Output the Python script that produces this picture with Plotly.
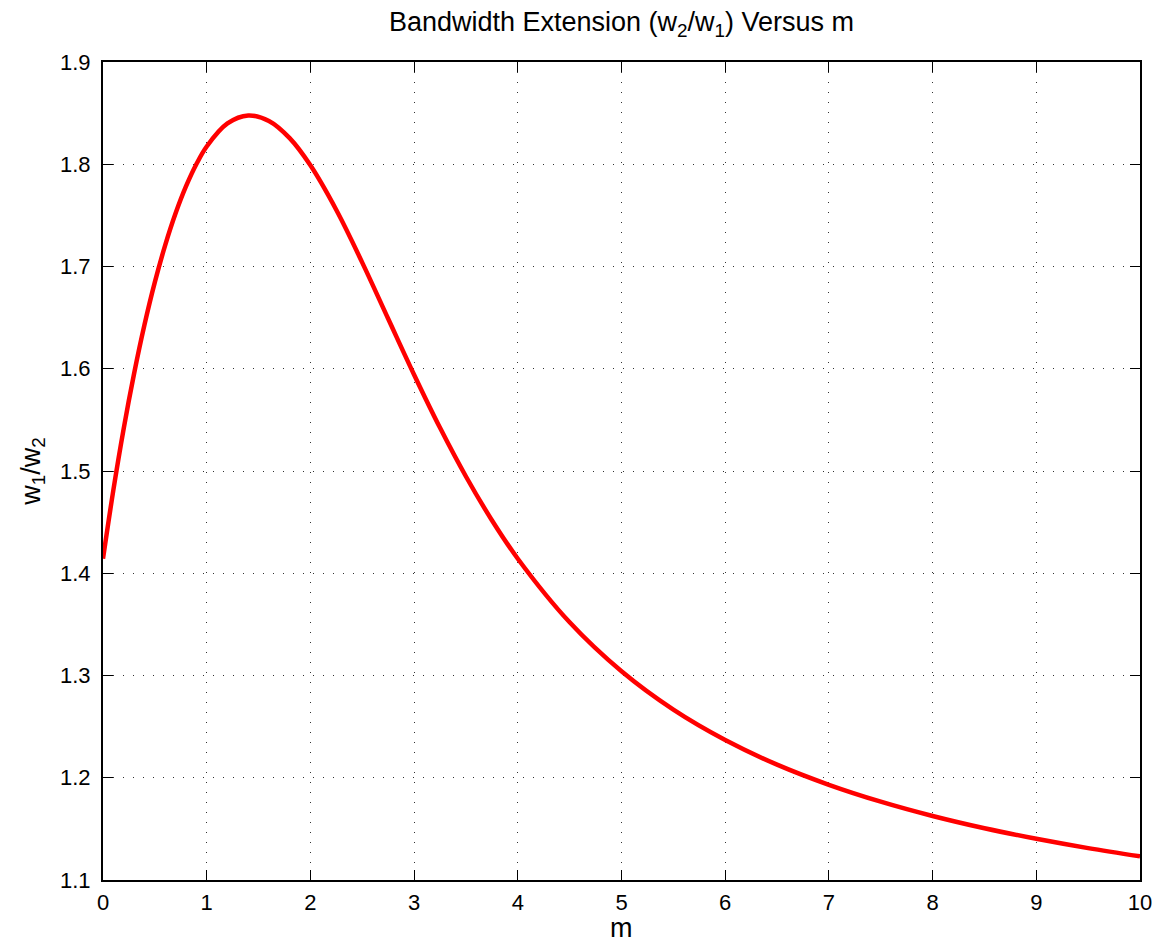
import plotly.graph_objects as go

m_vals = [0.0, 0.1, 0.2, 0.3, 0.4, 0.5, 0.6, 0.7, 0.8, 0.9, 1.0, 1.2, 1.4, 1.6, 1.8, 2.0,
          2.25, 2.5, 2.75, 3.0, 3.25, 3.5, 3.75, 4.0, 4.5, 5.0, 5.5, 6.0, 6.5, 7.0, 7.5,
          8.0, 8.5, 9.0, 9.5, 10.0]
ratio_vals = [1.4142, 1.4814, 1.5417, 1.5954, 1.6430, 1.6847, 1.7209, 1.7520, 1.7783, 1.8000,
              1.8174, 1.8399, 1.8477, 1.8423, 1.8255, 1.7989, 1.7552, 1.7038, 1.6489, 1.5942,
              1.5422, 1.4946, 1.4519, 1.4142, 1.3520, 1.3041, 1.2666, 1.2369, 1.2128, 1.1931,
              1.1766, 1.1626, 1.1506, 1.1403, 1.1312, 1.1231]

x_ticks = [0, 1, 2, 3, 4, 5, 6, 7, 8, 9, 10]
y_ticks = [1.1, 1.2, 1.3, 1.4, 1.5, 1.6, 1.7, 1.8, 1.9]

font_family = "Liberation Sans, Arial, Helvetica, sans-serif"

fig = go.Figure()
fig.add_trace(go.Scatter(
    x=m_vals, y=ratio_vals, mode="lines",
    line=dict(color="#ff0000", width=4.5, shape="spline", smoothing=1.0),
    showlegend=False, hoverinfo="skip",
))

axis_common = dict(
    showline=True, linecolor="black", linewidth=2, mirror="ticks",
    ticks="inside", ticklen=10, tickwidth=1, tickcolor="black",
    showgrid=True, gridcolor="#333333", gridwidth=1, griddash="1px,9px",
    zeroline=False, automargin=False,
    tickfont=dict(size=22, color="black", family=font_family),
)

fig.update_xaxes(range=[0, 10], tickvals=x_ticks, ticktext=[str(v) for v in x_ticks],
                 ticklabelstandoff=2, **axis_common)
fig.update_yaxes(range=[1.1, 1.9], tickvals=y_ticks, ticktext=[f"{v:.1f}" for v in y_ticks],
                 ticklabelstandoff=6,
                 title=dict(text="w<sub>1</sub>/w<sub>2</sub>", font=dict(size=27, color="black", family=font_family), standoff=12),
                 **axis_common)

# x-axis title placed as an annotation so it can sit low, as in the reference
fig.add_annotation(text="m", xref="paper", yref="paper", x=0.5, y=-0.059,
                   xanchor="center", yanchor="middle", showarrow=False,
                   font=dict(size=27, color="black", family=font_family))

fig.update_layout(
    width=1155, height=941,
    margin=dict(l=103, r=15, t=62, b=61),
    paper_bgcolor="white", plot_bgcolor="white",
    title=dict(text="Bandwidth Extension (w<sub>2</sub>/w<sub>1</sub>) Versus m",
               x=0.5, xanchor="center", xref="paper", yref="container", y=0.977, yanchor="middle",
               font=dict(size=27, color="black", family=font_family)),
    font=dict(family=font_family, color="black"),
)

# remove the default page margin so the figure sits at the window's top-left corner
fig.write_html("out.html", config={"displayModeBar": False},
               post_script="document.body.style.margin='0';document.body.style.overflow='hidden';")
